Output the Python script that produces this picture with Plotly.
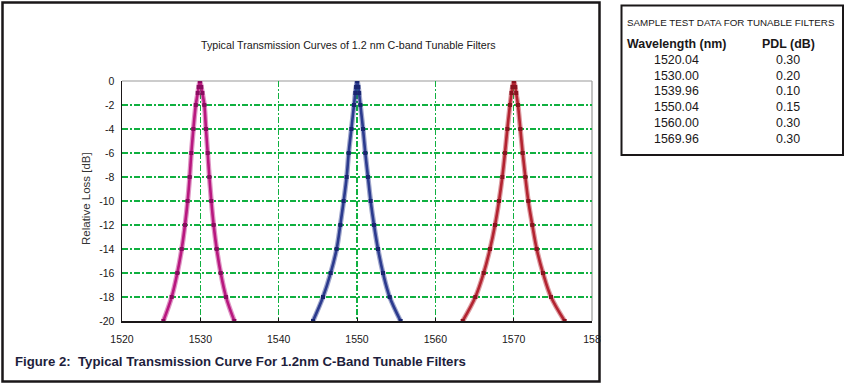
import plotly.graph_objects as go

# ---------------- data ----------------
x_tick_vals = [1520, 1530, 1540, 1550, 1560, 1570, 1580]
x_tick_labels = ["1520", "1530", "1540", "1550", "1560", "1570", "158"]
y_tick_vals = [0, -2, -4, -6, -8, -10, -12, -14, -16, -18, -20]
y_tick_labels = ["0", "-2", "-4", "-6", "-8", "-10", "-12", "-14", "-16", "-18", "-20"]

loss_db = [-20, -18, -16, -14, -12, -10, -8, -6, -4, -2, -1, -0.5, 0,
           -0.5, -1, -2, -4, -6, -8, -10, -12, -14, -16, -18, -20]

wl_1530 = [1525.28, 1526.34, 1527.06, 1527.62, 1528.04, 1528.38, 1528.64, 1528.85,
           1529.11, 1529.42, 1529.67, 1529.79, 1529.95,
           1530.12, 1530.26, 1530.51, 1530.72, 1530.94, 1531.15, 1531.40, 1531.70,
           1532.09, 1532.60, 1533.28, 1534.34]
wl_1550 = [1544.38, 1545.66, 1546.64, 1547.40, 1547.87, 1548.30, 1548.68, 1548.94,
           1549.28, 1549.62, 1549.78, 1549.88, 1550.02,
           1550.17, 1550.27, 1550.43, 1550.77, 1551.06, 1551.40, 1551.74, 1552.17,
           1552.68, 1553.32, 1554.17, 1555.57]
wl_1570 = [1563.49, 1565.11, 1566.17, 1566.98, 1567.62, 1568.13, 1568.55, 1568.89,
           1569.19, 1569.53, 1569.72, 1569.85, 1570.03,
           1570.20, 1570.32, 1570.55, 1570.85, 1571.15, 1571.49, 1571.87, 1572.38,
           1572.94, 1573.74, 1574.77, 1576.51]

table_title = "SAMPLE TEST DATA FOR TUNABLE FILTERS"
table_headers = ["Wavelength (nm)", "PDL (dB)"]
table_wavelengths = ["1520.04", "1530.00", "1539.96", "1550.04", "1560.00", "1569.96"]
table_pdl = ["0.30", "0.20", "0.10", "0.15", "0.30", "0.30"]

chart_title = "Typical Transmission Curves of 1.2 nm C-band Tunable Filters"
y_title = "Relative Loss [dB]"
caption = "Figure 2:  Typical Transmission Curve For 1.2nm C-Band Tunable Filters"

# ---------------- layout helpers ----------------
W, H = 845, 385
PL, PR, PT, PB = 122, 592, 81, 321   # plot area in pixels


def px(xp):
    return (xp - PL) / (PR - PL)


def py(yp):
    return (PB - yp) / (PB - PT)


FONT = "Arial, Liberation Sans, sans-serif"
INK = "#1a1718"

fig = go.Figure()

curves = [
    (wl_1530, "#B8177F", "#8A0C60"),
    (wl_1550, "#2B3A8E", "#1A2670"),
    (wl_1570, "#B32330", "#8A1420"),
]
for xs, col, mcol in curves:
    fig.add_trace(go.Scatter(
        x=xs, y=loss_db, mode="lines", line=dict(color=col, width=5, shape="spline"),
        opacity=0.45, hoverinfo="skip", showlegend=False))
    fig.add_trace(go.Scatter(
        x=xs, y=loss_db, mode="lines+markers",
        line=dict(color=col, width=2.6, shape="spline"),
        marker=dict(symbol="square", size=4, color=mcol),
        showlegend=False))

grid_col = "#10B040"
fig.update_xaxes(
    range=[1520, 1580], tickvals=x_tick_vals, ticktext=x_tick_labels,
    showgrid=True, gridcolor=grid_col, gridwidth=1.3, griddash="6px,2px,2px,2px",
    showline=True, linecolor=INK, linewidth=1.5,
    ticks="inside", ticklen=3, tickcolor=INK,
    tickfont=dict(family=FONT, size=10.5, color=INK),
    ticklabelstandoff=8, zeroline=False, fixedrange=True)
fig.update_yaxes(
    range=[-20, 0], tickvals=y_tick_vals, ticktext=y_tick_labels,
    showgrid=True, gridcolor=grid_col, gridwidth=1.3, griddash="6px,2px,2px,2px",
    showline=True, linecolor=INK, linewidth=1.5,
    ticks="", tickfont=dict(family=FONT, size=10.5, color=INK),
    ticklabelstandoff=4, zeroline=False, fixedrange=True)

shapes = [
    # gray top and right frame lines of plot area
    dict(type="line", xref="paper", yref="paper", x0=0, x1=1, y0=1, y1=1,
         line=dict(color="#9a9a9a", width=1.2), layer="below"),
    dict(type="line", xref="paper", yref="paper", x0=1, x1=1, y0=0, y1=1,
         line=dict(color="#9a9a9a", width=1.2), layer="below"),
    # outer figure border
    dict(type="rect", xref="paper", yref="paper",
         x0=px(2.5), x1=px(599.5), y0=py(381.5), y1=py(2.5),
         line=dict(color=INK, width=2.5), layer="above"),
    # table box
    dict(type="rect", xref="paper", yref="paper",
         x0=px(621.5), x1=px(843), y0=py(155), y1=py(5.5),
         line=dict(color=INK, width=2), layer="above"),
]

annotations = [
    dict(text=chart_title, xref="paper", yref="paper", x=px(348), y=py(45),
         showarrow=False, xanchor="center", yanchor="middle",
         font=dict(family=FONT, size=10.7, color=INK)),
    dict(text=y_title, xref="paper", yref="paper", x=px(86), y=py(199),
         showarrow=False, textangle=-90, xanchor="center", yanchor="middle",
         font=dict(family=FONT, size=11.5, color="#333333")),
    dict(text="<b>" + caption + "</b>", xref="paper", yref="paper", x=px(13), y=py(361),
         showarrow=False, xanchor="left", yanchor="middle",
         font=dict(family=FONT, size=13.2, color="#1e1e3c")),
    dict(text=table_title, xref="paper", yref="paper", x=px(731), y=py(22.5),
         showarrow=False, xanchor="center", yanchor="middle",
         font=dict(family=FONT, size=9.8, color=INK)),
    dict(text="<b>" + table_headers[0] + "</b>", xref="paper", yref="paper", x=px(676), y=py(43.5),
         showarrow=False, xanchor="center", yanchor="middle",
         font=dict(family=FONT, size=12.4, color=INK)),
    dict(text="<b>" + table_headers[1] + "</b>", xref="paper", yref="paper", x=px(788), y=py(43.5),
         showarrow=False, xanchor="center", yanchor="middle",
         font=dict(family=FONT, size=12.4, color=INK)),
]
row_y = [60, 76, 91.5, 107.3, 123.2, 139]
for i, (wv, pdl) in enumerate(zip(table_wavelengths, table_pdl)):
    annotations.append(dict(text=wv, xref="paper", yref="paper", x=px(676), y=py(row_y[i]),
                            showarrow=False, xanchor="center", yanchor="middle",
                            font=dict(family=FONT, size=12.4, color=INK)))
    annotations.append(dict(text=pdl, xref="paper", yref="paper", x=px(787.5), y=py(row_y[i]),
                            showarrow=False, xanchor="center", yanchor="middle",
                            font=dict(family=FONT, size=12.4, color=INK)))

fig.update_layout(
    width=W, height=H,
    margin=dict(l=PL, r=W - PR, t=PT, b=H - PB, pad=0),
    paper_bgcolor="white", plot_bgcolor="white",
    shapes=shapes, annotations=annotations, showlegend=False,
)

fig.write_html(
    "out.html",
    config={"displayModeBar": False, "staticPlot": True},
    post_script="document.body.style.margin='0';document.body.style.overflow='hidden';",
)
